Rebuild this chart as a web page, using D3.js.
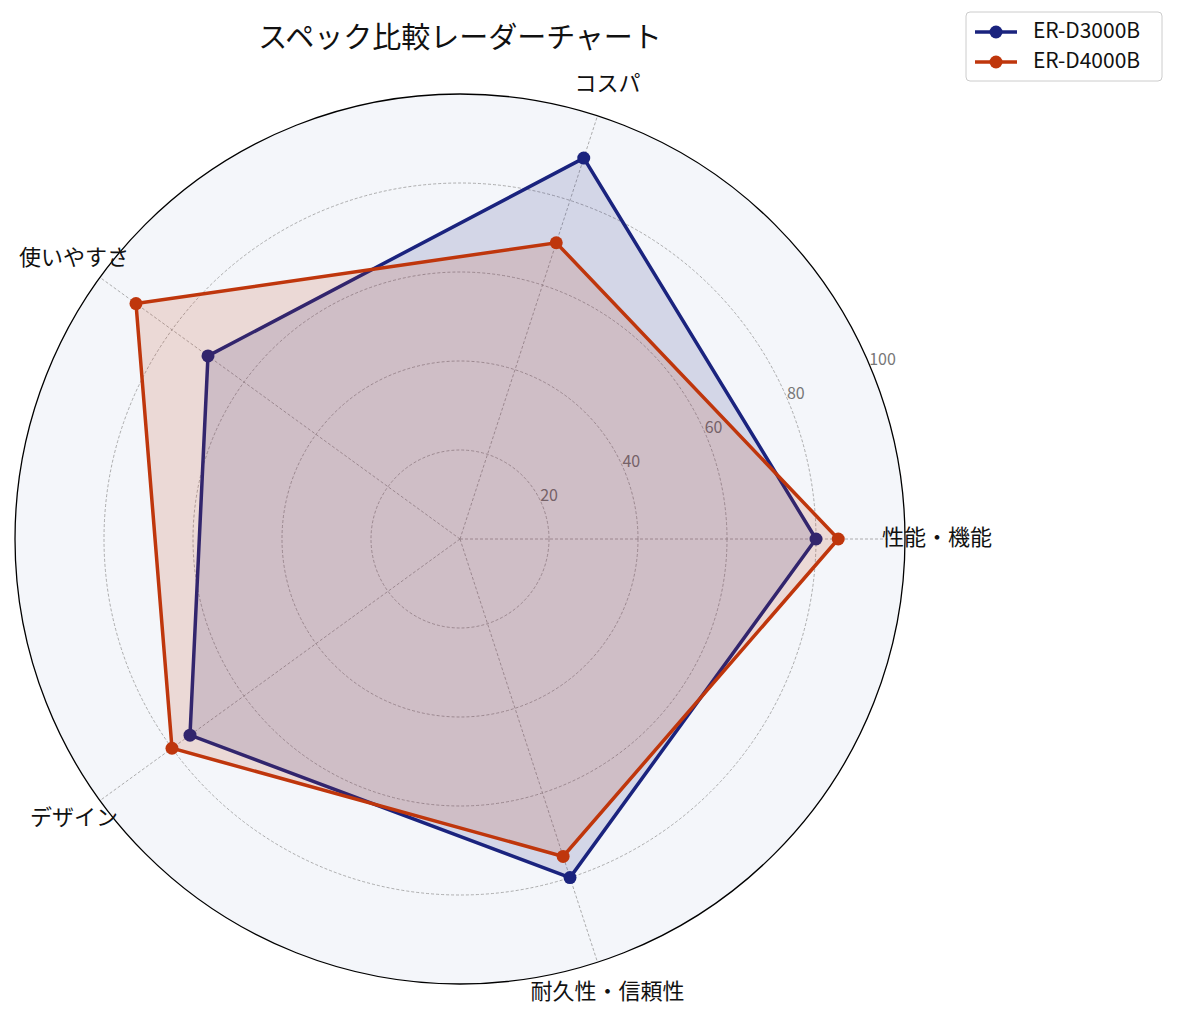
<!DOCTYPE html>
<html>
<head>
<meta charset="utf-8">
<script src="https://cdn.jsdelivr.net/npm/d3@7"></script>
<style>
body { margin: 0; background: #fff; }
text { font-family: "Noto Sans CJK JP", "Noto Sans", sans-serif; }
</style>
</head>
<body>
<svg id="chart" width="1178" height="1017"></svg>
<script>
const categories = ["性能・機能", "コスパ", "使いやすさ", "デザイン", "耐久性・信頼性"];
const seriesNames = ["ER-D3000B", "ER-D4000B"];
const d3000 = [80, 90, 70, 75, 80];
const d4000 = [85, 70, 90, 80, 75];
const ticks = [20, 40, 60, 80, 100];
const colors = ["#1a237e", "#bf360c"];

const svg = d3.select("#chart");
const cx = 460, cy = 539, R = 445;
const r = d3.scaleLinear().domain([0, 100]).range([0, R]);
const angle = d3.scaleLinear().domain([0, categories.length]).range([0, 2 * Math.PI]);
const pt = (i, v) => {
    const a = angle(i);
    return [cx + r(v) * Math.cos(a), cy - r(v) * Math.sin(a)];
};

svg.append("circle").attr("cx", cx).attr("cy", cy).attr("r", R)
    .attr("fill", "#f4f6fa").attr("stroke", "none");

ticks.forEach(t => {
    if (t < 100) {
        svg.append("circle").attr("cx", cx).attr("cy", cy).attr("r", r(t))
            .attr("fill", "none").attr("stroke", "#999").attr("stroke-width", 0.8)
            .attr("stroke-dasharray", "3,2");
    }
});

categories.forEach((c, i) => {
    const [x, y] = pt(i, 100);
    svg.append("line").attr("x1", cx).attr("y1", cy).attr("x2", x).attr("y2", y)
        .attr("stroke", "#999").attr("stroke-width", 0.8).attr("stroke-dasharray", "3,2");
});

// radial tick labels
const la = Math.PI / 8;
ticks.forEach(t => {
    svg.append("text")
        .attr("x", cx + r(t) * Math.cos(la) - 2)
        .attr("y", cy - r(t) * Math.sin(la) - 4)
        .attr("font-size", 16).attr("fill", "#777")
        .attr("font-family", "Noto Sans")
        .text(t);
});

const line = d3.line().curve(d3.curveLinearClosed);
[d3000, d4000].forEach((vals, s) => {
    const pts = vals.map((v, i) => pt(i, v));
    svg.append("path").attr("d", line(pts))
        .attr("fill", colors[s]).attr("fill-opacity", 0.15)
        .attr("stroke", colors[s]).attr("stroke-width", 3.5);
    svg.selectAll(null).data(pts).enter().append("circle")
        .attr("cx", d => d[0]).attr("cy", d => d[1]).attr("r", 6.5)
        .attr("fill", colors[s]);
});

svg.append("circle").attr("cx", cx).attr("cy", cy).attr("r", R)
    .attr("fill", "none").attr("stroke", "#000").attr("stroke-width", 1.3);

// category labels, centred just outside the outer ring
categories.forEach((c, i) => {
    const [x, y] = pt(i, 107.2);
    svg.append("text")
        .attr("x", x)
        .attr("y", y)
        .attr("text-anchor", "middle")
        .attr("dominant-baseline", "middle")
        .attr("font-size", 22).attr("fill", "#111")
        .text(c);
});

svg.append("text").attr("x", cx).attr("y", 40).attr("text-anchor", "middle")
    .attr("dominant-baseline", "middle")
    .attr("font-size", 29).attr("fill", "#111").text("スペック比較レーダーチャート");

// legend
const lg = svg.append("g").attr("transform", "translate(966,12)");
lg.append("rect").attr("width", 196).attr("height", 69).attr("rx", 4)
    .attr("fill", "#fff").attr("stroke", "#ccc");
seriesNames.forEach((n, i) => {
    const y = 20 + i * 30;
    lg.append("line").attr("x1", 9).attr("x2", 51).attr("y1", y).attr("y2", y)
        .attr("stroke", colors[i]).attr("stroke-width", 3.5);
    lg.append("circle").attr("cx", 30).attr("cy", y).attr("r", 6.5).attr("fill", colors[i]);
    lg.append("text").attr("x", 67).attr("y", y).attr("dominant-baseline", "middle")
        .attr("font-family", "Noto Sans")
        .attr("font-size", 21).attr("fill", "#111").text(n);
});
</script>
</body>
</html>
